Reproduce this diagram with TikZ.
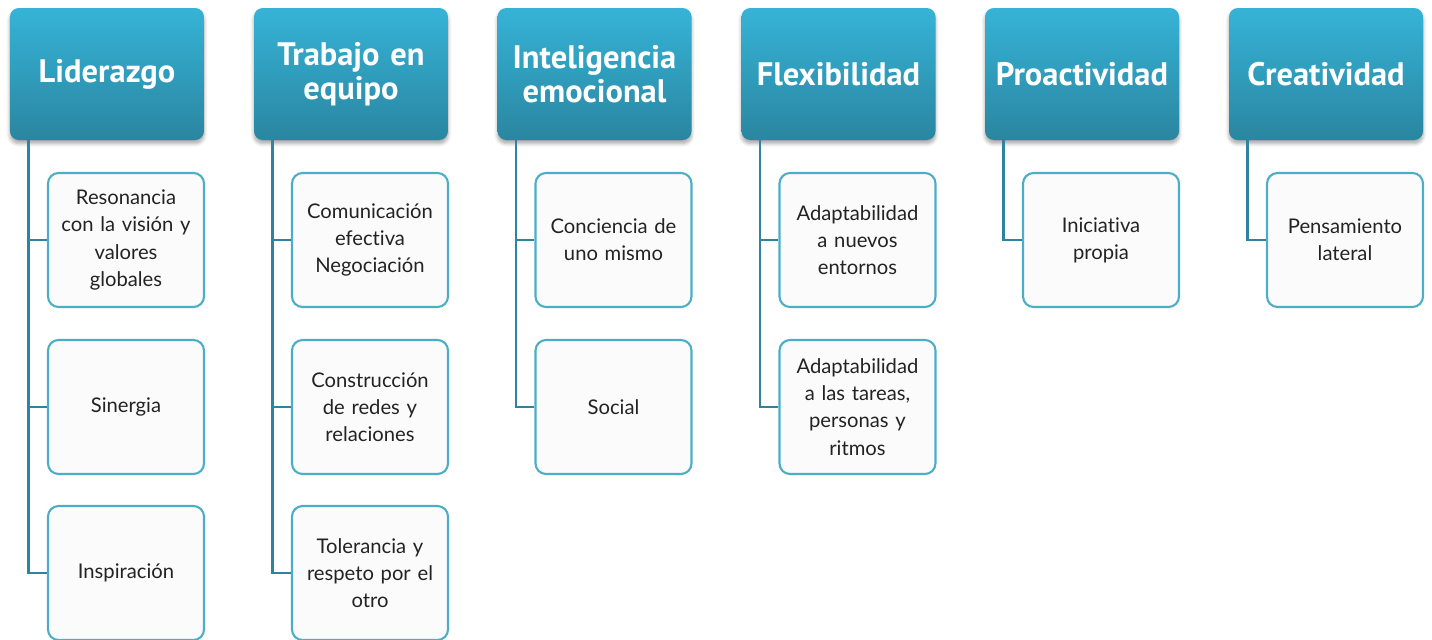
\documentclass[tikz,border=0pt]{standalone}
\usepackage{fontspec}
\setmainfont{Lato}[Ligatures=NoCommon]
\newfontfamily\headfont{PT Sans}
\usetikzlibrary{positioning,shadows.blur}
\definecolor{hdtop}{RGB}{54,179,215}
\definecolor{hdbot}{RGB}{42,134,160}
\definecolor{chborder}{RGB}{76,173,199}
\definecolor{lnteal}{RGB}{46,132,158}
\definecolor{chfill}{RGB}{251,251,251}
\definecolor{chtext}{RGB}{35,35,35}

\begin{document}
\begin{tikzpicture}[
  headbox/.style={rounded corners=5pt, top color=hdtop, bottom color=hdbot,
    text=white, font=\headfont\bfseries\fontsize{18.5}{19}\selectfont,
    text width=3.8cm, align=center, minimum width=3.88cm,
    minimum height=2.64cm, inner sep=0pt,
    blur shadow={shadow xshift=0pt, shadow yshift=-0.7mm,
      shadow blur steps=6, shadow opacity=35}},
  subbox/.style={draw=chborder, line width=1.2pt, fill=chfill,
    rounded corners=6pt, text=chtext, font=\fontsize{11.5}{15.5}\selectfont,
    text width=2.95cm, align=center, minimum width=3.12cm,
    minimum height=2.68cm, inner sep=0pt},
  link/.style={draw=lnteal, line width=1.4pt}]
\useasboundingbox (0,0) rectangle (28.64,-12.78);
% Headers
\node[headbox] (lid) at (2.14,-1.48)  {Liderazgo};
\node[headbox] (tra) at (7.02,-1.48)  {Trabajo en\\equipo};
\node[headbox] (int) at (11.89,-1.48) {Inteligencia\\emocional};
\node[headbox] (fle) at (16.77,-1.48) {Flexibilidad};
\node[headbox] (pro) at (21.64,-1.48) {Proactividad};
\node[headbox] (cre) at (26.52,-1.48) {Creatividad};
% Sub-items
\node[subbox] (lid1) at (2.52,-4.80)  {Resonancia\\con la visión y\\valores\\globales};
\node[subbox] (lid2) at (2.52,-8.14)  {Sinergia};
\node[subbox] (lid3) at (2.52,-11.46) {Inspiración};
\node[subbox] (tra1) at (7.40,-4.80)  {Comunicación\\efectiva\\Negociación};
\node[subbox] (tra2) at (7.40,-8.14)  {Construcción\\de redes y\\relaciones};
\node[subbox] (tra3) at (7.40,-11.46) {Tolerancia y\\respeto por el\\otro};
\node[subbox] (int1) at (12.27,-4.80) {Conciencia de\\uno mismo};
\node[subbox] (int2) at (12.27,-8.14) {Social};
\node[subbox] (fle1) at (17.15,-4.80) {Adaptabilidad\\a nuevos\\entornos};
\node[subbox] (fle2) at (17.15,-8.14) {Adaptabilidad\\a las tareas,\\personas y\\ritmos};
\node[subbox] (pro1) at (22.02,-4.80) {Iniciativa\\propia};
\node[subbox] (cre1) at (26.90,-4.80) {Pensamiento\\lateral};
% Links
\draw[link] ([xshift=0.38cm]lid.south west) |- (lid1.west);
\draw[link] ([xshift=0.38cm]lid.south west) |- (lid2.west);
\draw[link] ([xshift=0.38cm]lid.south west) |- (lid3.west);
\draw[link] ([xshift=0.38cm]tra.south west) |- (tra1.west);
\draw[link] ([xshift=0.38cm]tra.south west) |- (tra2.west);
\draw[link] ([xshift=0.38cm]tra.south west) |- (tra3.west);
\draw[link] ([xshift=0.38cm]int.south west) |- (int1.west);
\draw[link] ([xshift=0.38cm]int.south west) |- (int2.west);
\draw[link] ([xshift=0.38cm]fle.south west) |- (fle1.west);
\draw[link] ([xshift=0.38cm]fle.south west) |- (fle2.west);
\draw[link] ([xshift=0.38cm]pro.south west) |- (pro1.west);
\draw[link] ([xshift=0.38cm]cre.south west) |- (cre1.west);
\end{tikzpicture}
\end{document}
